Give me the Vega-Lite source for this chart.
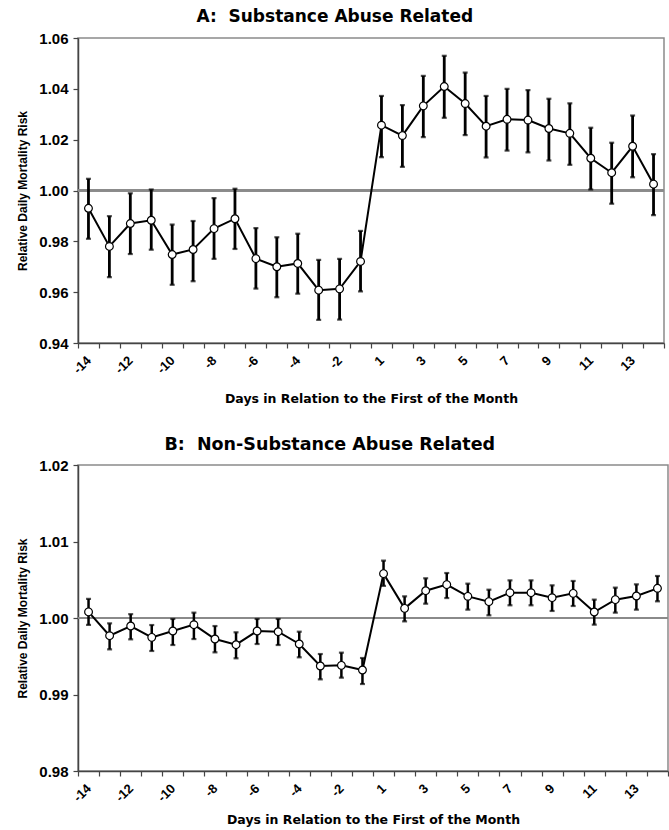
{
  "$schema": "https://vega.github.io/schema/vega-lite/v6.json",
  "padding": {"left": 16, "right": 1, "top": 7, "bottom": 1},
  "spacing": 28,
  "datasets": {
    "a": [
      {"day": -14, "rr": 0.9930, "lo": 0.9810, "hi": 1.0046},
      {"day": -13, "rr": 0.9780, "lo": 0.9659, "hi": 0.9899},
      {"day": -12, "rr": 0.9870, "lo": 0.9750, "hi": 0.9989},
      {"day": -11, "rr": 0.9883, "lo": 0.9767, "hi": 1.0004},
      {"day": -10, "rr": 0.9748, "lo": 0.9629, "hi": 0.9866},
      {"day": -9, "rr": 0.9768, "lo": 0.9643, "hi": 0.9880},
      {"day": -8, "rr": 0.9850, "lo": 0.9731, "hi": 0.9970},
      {"day": -7, "rr": 0.9889, "lo": 0.9770, "hi": 1.0007},
      {"day": -6, "rr": 0.9732, "lo": 0.9614, "hi": 0.9852},
      {"day": -5, "rr": 0.9700, "lo": 0.9580, "hi": 0.9816},
      {"day": -4, "rr": 0.9713, "lo": 0.9594, "hi": 0.9830},
      {"day": -3, "rr": 0.9608, "lo": 0.9491, "hi": 0.9727},
      {"day": -2, "rr": 0.9613, "lo": 0.9492, "hi": 0.9731},
      {"day": -1, "rr": 0.9721, "lo": 0.9603, "hi": 0.9841},
      {"day": 1, "rr": 1.0257, "lo": 1.0131, "hi": 1.0372},
      {"day": 2, "rr": 1.0216, "lo": 1.0093, "hi": 1.0336},
      {"day": 3, "rr": 1.0333, "lo": 1.0210, "hi": 1.0451},
      {"day": 4, "rr": 1.0409, "lo": 1.0286, "hi": 1.0530},
      {"day": 5, "rr": 1.0342, "lo": 1.0218, "hi": 1.0464},
      {"day": 6, "rr": 1.0253, "lo": 1.0130, "hi": 1.0372},
      {"day": 7, "rr": 1.0280, "lo": 1.0157, "hi": 1.0400},
      {"day": 8, "rr": 1.0277, "lo": 1.0150, "hi": 1.0395},
      {"day": 9, "rr": 1.0244, "lo": 1.0118, "hi": 1.0361},
      {"day": 10, "rr": 1.0225, "lo": 1.0101, "hi": 1.0343},
      {"day": 11, "rr": 1.0127, "lo": 1.0004, "hi": 1.0247},
      {"day": 12, "rr": 1.0070, "lo": 0.9948, "hi": 1.0188},
      {"day": 13, "rr": 1.0174, "lo": 1.0052, "hi": 1.0295},
      {"day": 14, "rr": 1.0025, "lo": 0.9903, "hi": 1.0143}
    ],
    "b": [
      {"day": -14, "rr": 1.0008, "lo": 0.9991, "hi": 1.0025},
      {"day": -13, "rr": 0.99769, "lo": 0.9959, "hi": 0.9993},
      {"day": -12, "rr": 0.99895, "lo": 0.99721, "hi": 1.0005},
      {"day": -11, "rr": 0.99747, "lo": 0.99569, "hi": 0.99908},
      {"day": -10, "rr": 0.9983, "lo": 0.99647, "hi": 0.99987},
      {"day": -9, "rr": 0.99913, "lo": 0.99725, "hi": 1.0007},
      {"day": -8, "rr": 0.99725, "lo": 0.99551, "hi": 0.99895},
      {"day": -7, "rr": 0.99651, "lo": 0.99473, "hi": 0.99813},
      {"day": -6, "rr": 0.9983, "lo": 0.9966, "hi": 0.99987},
      {"day": -5, "rr": 0.99821, "lo": 0.99647, "hi": 0.99987},
      {"day": -4, "rr": 0.9966, "lo": 0.99486, "hi": 0.99821},
      {"day": -3, "rr": 0.99373, "lo": 0.99198, "hi": 0.99529},
      {"day": -2, "rr": 0.99381, "lo": 0.9922, "hi": 0.99547},
      {"day": -1, "rr": 0.9932, "lo": 0.99137, "hi": 0.99477},
      {"day": 1, "rr": 1.0058, "lo": 1.0042, "hi": 1.0075},
      {"day": 2, "rr": 1.00126, "lo": 0.99956, "hi": 1.00283},
      {"day": 3, "rr": 1.00357, "lo": 1.00187, "hi": 1.00519},
      {"day": 4, "rr": 1.00436, "lo": 1.00261, "hi": 1.00588},
      {"day": 5, "rr": 1.00283, "lo": 1.00109, "hi": 1.00449},
      {"day": 6, "rr": 1.00214, "lo": 1.00035, "hi": 1.0037},
      {"day": 7, "rr": 1.00331, "lo": 1.00166, "hi": 1.00492},
      {"day": 8, "rr": 1.00331, "lo": 1.00166, "hi": 1.00492},
      {"day": 9, "rr": 1.00266, "lo": 1.00092, "hi": 1.00427},
      {"day": 10, "rr": 1.00322, "lo": 1.00157, "hi": 1.00484},
      {"day": 11, "rr": 1.00078, "lo": 0.99913, "hi": 1.0024},
      {"day": 12, "rr": 1.0024, "lo": 1.0007, "hi": 1.00397},
      {"day": 13, "rr": 1.00288, "lo": 1.00109, "hi": 1.0044},
      {"day": 14, "rr": 1.00388, "lo": 1.00218, "hi": 1.00549}
    ]
  },
  "vconcat": [
    {
      "title": {"text": "A:\u00a0 Substance Abuse Related", "fontSize": 17, "dx": -6},
      "width": 586,
      "height": 305,
      "data": {"name": "a"},
      "encoding": {
        "x": {
          "field": "day", "type": "ordinal",
          "scale": {"type": "band", "paddingInner": 0, "paddingOuter": 0},
          "axis": {
            "title": "Days in Relation to the First of the Month",
            "labelAngle": -45, "labelAlign": "right", "labelBaseline": "middle",
            "tickBand": "extent", "titlePadding": 16,
            "labelExpr": "(datum.value < 0 && datum.value % 2 == 0) || (datum.value > 0 && datum.value % 2 == 1) ? datum.label : ''"
          }
        }
      },
      "layer": [
        {
          "mark": {"type": "rule", "color": "#8a8a8a", "strokeWidth": 1.5},
          "encoding": {"x": null, "y": {"datum": 1}}
        },
        {
          "mark": {"type": "rule", "color": "black", "strokeWidth": 2.8},
          "encoding": {
            "y": {"field": "lo", "type": "quantitative",
              "scale": {"domain": [0.94, 1.06], "nice": false, "zero": false},
              "axis": {"title": "Relative Daily Mortality Risk", "values": [0.94, 0.96, 0.98, 1.0, 1.02, 1.04, 1.06], "format": ".2f"}},
            "y2": {"field": "hi"}
          }
        },
        {
          "mark": {"type": "tick", "color": "black", "size": 5, "thickness": 2.2, "orient": "horizontal"},
          "encoding": {"y": {"field": "lo", "type": "quantitative"}}
        },
        {
          "mark": {"type": "tick", "color": "black", "size": 5, "thickness": 2.2, "orient": "horizontal"},
          "encoding": {"y": {"field": "hi", "type": "quantitative"}}
        },
        {
          "mark": {"type": "line", "color": "black", "strokeWidth": 2},
          "encoding": {"y": {"field": "rr", "type": "quantitative"}}
        },
        {
          "mark": {"type": "point", "filled": true, "fill": "white", "stroke": "black", "strokeWidth": 1.2, "size": 60, "opacity": 1},
          "encoding": {"y": {"field": "rr", "type": "quantitative"}}
        }
      ]
    },
    {
      "title": {"text": "B:\u00a0 Non-Substance Abuse Related", "fontSize": 17.5, "dx": -13},
      "width": 590,
      "height": 306,
      "data": {"name": "b"},
      "encoding": {
        "x": {
          "field": "day", "type": "ordinal",
          "scale": {"type": "band", "paddingInner": 0, "paddingOuter": 0},
          "axis": {
            "title": "Days in Relation to the First of the Month",
            "labelAngle": -45, "labelAlign": "right", "labelBaseline": "middle",
            "tickBand": "extent", "titlePadding": 9,
            "labelExpr": "(datum.value < 0 && datum.value % 2 == 0) || (datum.value > 0 && datum.value % 2 == 1) ? datum.label : ''"
          }
        }
      },
      "layer": [
        {
          "mark": {"type": "rule", "color": "#8a8a8a", "strokeWidth": 1.5},
          "encoding": {"x": null, "y": {"datum": 1}}
        },
        {
          "mark": {"type": "rule", "color": "black", "strokeWidth": 2.5},
          "encoding": {
            "y": {"field": "lo", "type": "quantitative",
              "scale": {"domain": [0.98, 1.02], "nice": false, "zero": false},
              "axis": {"title": "Relative Daily Mortality Risk", "values": [0.98, 0.99, 1.0, 1.01, 1.02], "format": ".2f"}},
            "y2": {"field": "hi"}
          }
        },
        {
          "mark": {"type": "tick", "color": "black", "size": 5, "thickness": 2.2, "orient": "horizontal"},
          "encoding": {"y": {"field": "lo", "type": "quantitative"}}
        },
        {
          "mark": {"type": "tick", "color": "black", "size": 5, "thickness": 2.2, "orient": "horizontal"},
          "encoding": {"y": {"field": "hi", "type": "quantitative"}}
        },
        {
          "mark": {"type": "line", "color": "black", "strokeWidth": 2},
          "encoding": {"y": {"field": "rr", "type": "quantitative"}}
        },
        {
          "mark": {"type": "point", "filled": true, "fill": "white", "stroke": "black", "strokeWidth": 1.2, "size": 60, "opacity": 1},
          "encoding": {"y": {"field": "rr", "type": "quantitative"}}
        }
      ]
    }
  ],
  "config": {
    "font": "Liberation Sans",
    "view": {"stroke": "#8a8a8a", "strokeWidth": 1.5},
    "title": {"font": "DejaVu Sans", "fontSize": 17.5, "fontWeight": "bold", "color": "black", "anchor": "middle", "frame": "bounds", "offset": 5},
    "axis": {
      "grid": false,
      "labelFont": "Liberation Sans", "labelFontWeight": "bold", "labelColor": "black",
      "titleFontWeight": "bold", "titleColor": "black",
      "domainColor": "#444", "domainWidth": 1.5, "tickColor": "#444", "tickWidth": 1.2, "tickSize": 5
    },
    "axisY": {"labelFontSize": 15, "titleFont": "Liberation Sans", "titleFontSize": 12, "titlePadding": 9, "labelPadding": 5},
    "axisX": {"labelFontSize": 13, "titleFont": "DejaVu Sans", "titleFontSize": 12.5, "labelPadding": 10}
  }
}
